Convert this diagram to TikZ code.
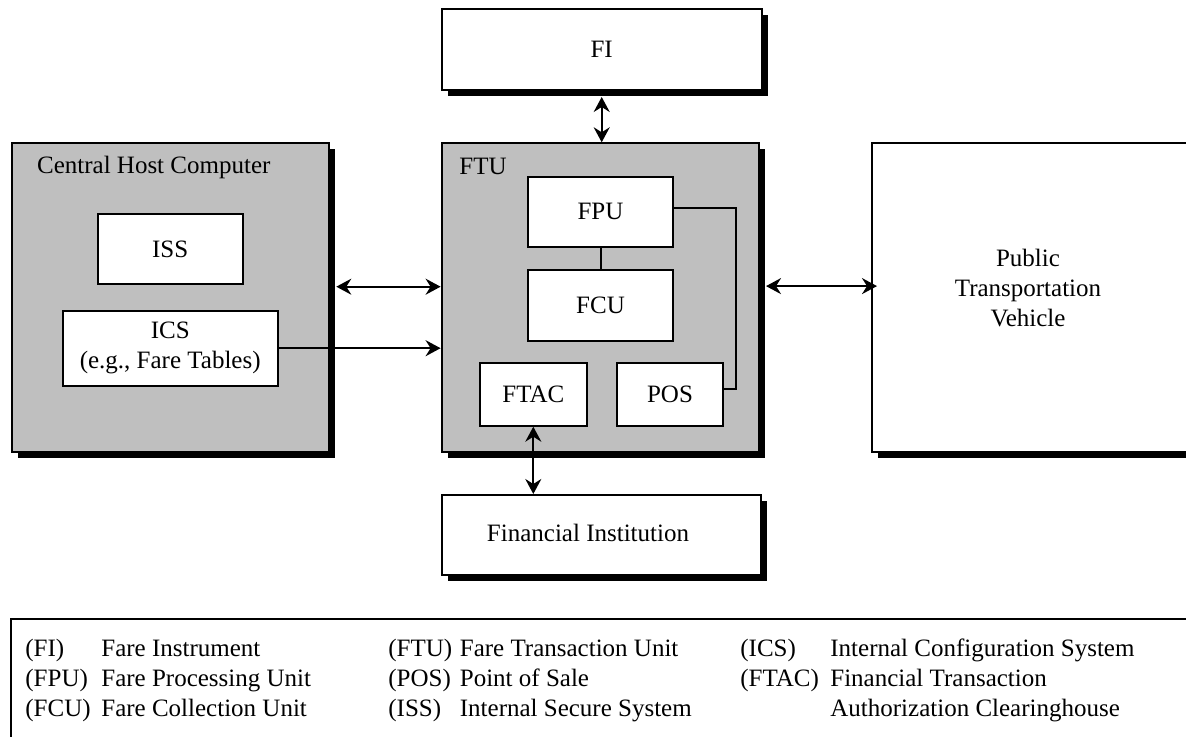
\documentclass[tikz,border=0pt]{standalone}
\usepackage{fontspec}
\setmainfont{Liberation Serif}
\usetikzlibrary{arrows.meta,positioning,shadows}

\begin{document}
\begin{tikzpicture}[
  x=0.5pt, y=-0.5pt,
  font=\fontsize{12.5}{15}\selectfont,
  box/.style={draw, line width=1pt, fill=white, align=center, inner sep=0pt},
  outer/.style={box, drop shadow={shadow xshift=3pt, shadow yshift=-3pt, fill=black, opacity=1}},
  host/.style={outer, fill=black!25},
  tag/.style={inner sep=0pt, align=center},
  link/.style={line width=1pt},
  arrow/.style={link, -{Stealth[length=7.5pt,width=8pt,inset=2.5pt]}},
  dblarrow/.style={link, {Stealth[length=7.5pt,width=8pt,inset=2.5pt]}-{Stealth[length=7.5pt,width=8pt,inset=2.5pt]}},
  legend/.style={anchor=base west, inner sep=0pt, font=\fontsize{12.5}{15.2}\selectfont}
]
  \useasboundingbox (0,0) rectangle (1186,737);

  % outer boxes
  \node[outer, minimum width=160pt, minimum height=40.3pt] (fi) at (601.7,49.7) {FI};
  \node[host, minimum width=158.8pt, minimum height=154.2pt] (chc) at (170.5,297.5) {};
  \node[host, minimum width=158.7pt, minimum height=154.2pt] (ftu) at (600.3,297.5) {};
  \node[outer, minimum width=164pt, minimum height=154.2pt] (ptv) at (1036,297.5) {};
  \node[outer, minimum width=159.7pt, minimum height=40pt] (fin) at (601.3,535) {};

  \node[tag, anchor=west] (chcname) at (36.7,167.3) {Central Host Computer};
  \node[tag, anchor=west] (ftuname) at (459,166.7) {FTU};
  \node[tag] (ptvname) at (1028,288) {Public\\Transportation\\Vehicle};
  \node[tag] (finname) at (588,533) {Financial Institution};

  % inner boxes
  \node[box, minimum width=72.5pt, minimum height=35.2pt] (iss) at (170.2,249.2) {ISS};
  \node[box, minimum width=107.5pt, minimum height=37.5pt] (ics) at (170.2,348.2) {ICS\\(e.g., Fare Tables)};
  \node[box, minimum width=72.2pt, minimum height=35pt] (fpu) at (600.5,211.7) {FPU};
  \node[box, minimum width=72.2pt, minimum height=35.3pt] (fcu) at (600.5,305.3) {FCU};
  \node[box, minimum width=53.3pt, minimum height=31.2pt] (ftac) at (533.3,394.5) {FTAC};
  \node[box, minimum width=53.3pt, minimum height=31.2pt] (pos) at (670,394.5) {POS};

  % connectors
  \draw[dblarrow] ([yshift=-3pt]fi.south) -- (fi.south |- ftu.north);
  \draw[dblarrow] ([xshift=3pt,yshift=5.4pt]chc.east) -- ([yshift=5.4pt]chc.east -| ftu.west);
  \draw[arrow] (ics.east) -- (ics.east -| ftu.west);
  \draw[dblarrow] ([xshift=3pt,yshift=5.7pt]ftu.east) -- ([xshift=3pt,yshift=5.7pt]ftu.east -| ptv.west);
  \draw[link] (fpu) -- (fcu);
  \draw[link] ([yshift=1.75pt]fpu.east) -- ++(62.3,0) |- ([yshift=2.6pt]pos.east);
  \draw[dblarrow] (ftac.south) -- (ftac.south |- fin.north);

  % legend
  \draw[line width=1.2pt] (11,760) -- (11,619) -- (1200,619);
  \node[legend] (keya) at (25,656) {\begin{tabular}[t]{@{}p{38pt}@{}l@{}}
    (FI) & Fare Instrument\\
    (FPU) & Fare Processing Unit\\
    (FCU) & Fare Collection Unit
  \end{tabular}};
  \node[legend] (keyb) at (388,656) {\begin{tabular}[t]{@{}p{35.75pt}@{}l@{}}
    (FTU) & Fare Transaction Unit\\
    (POS) & Point of Sale\\
    (ISS) & Internal Secure System
  \end{tabular}};
  \node[legend] (keyc) at (740,656) {\begin{tabular}[t]{@{}p{45pt}@{}l@{}}
    (ICS) & Internal Configuration System\\
    (FTAC) & Financial Transaction\\
     & Authorization Clearinghouse
  \end{tabular}};
\end{tikzpicture}
\end{document}
